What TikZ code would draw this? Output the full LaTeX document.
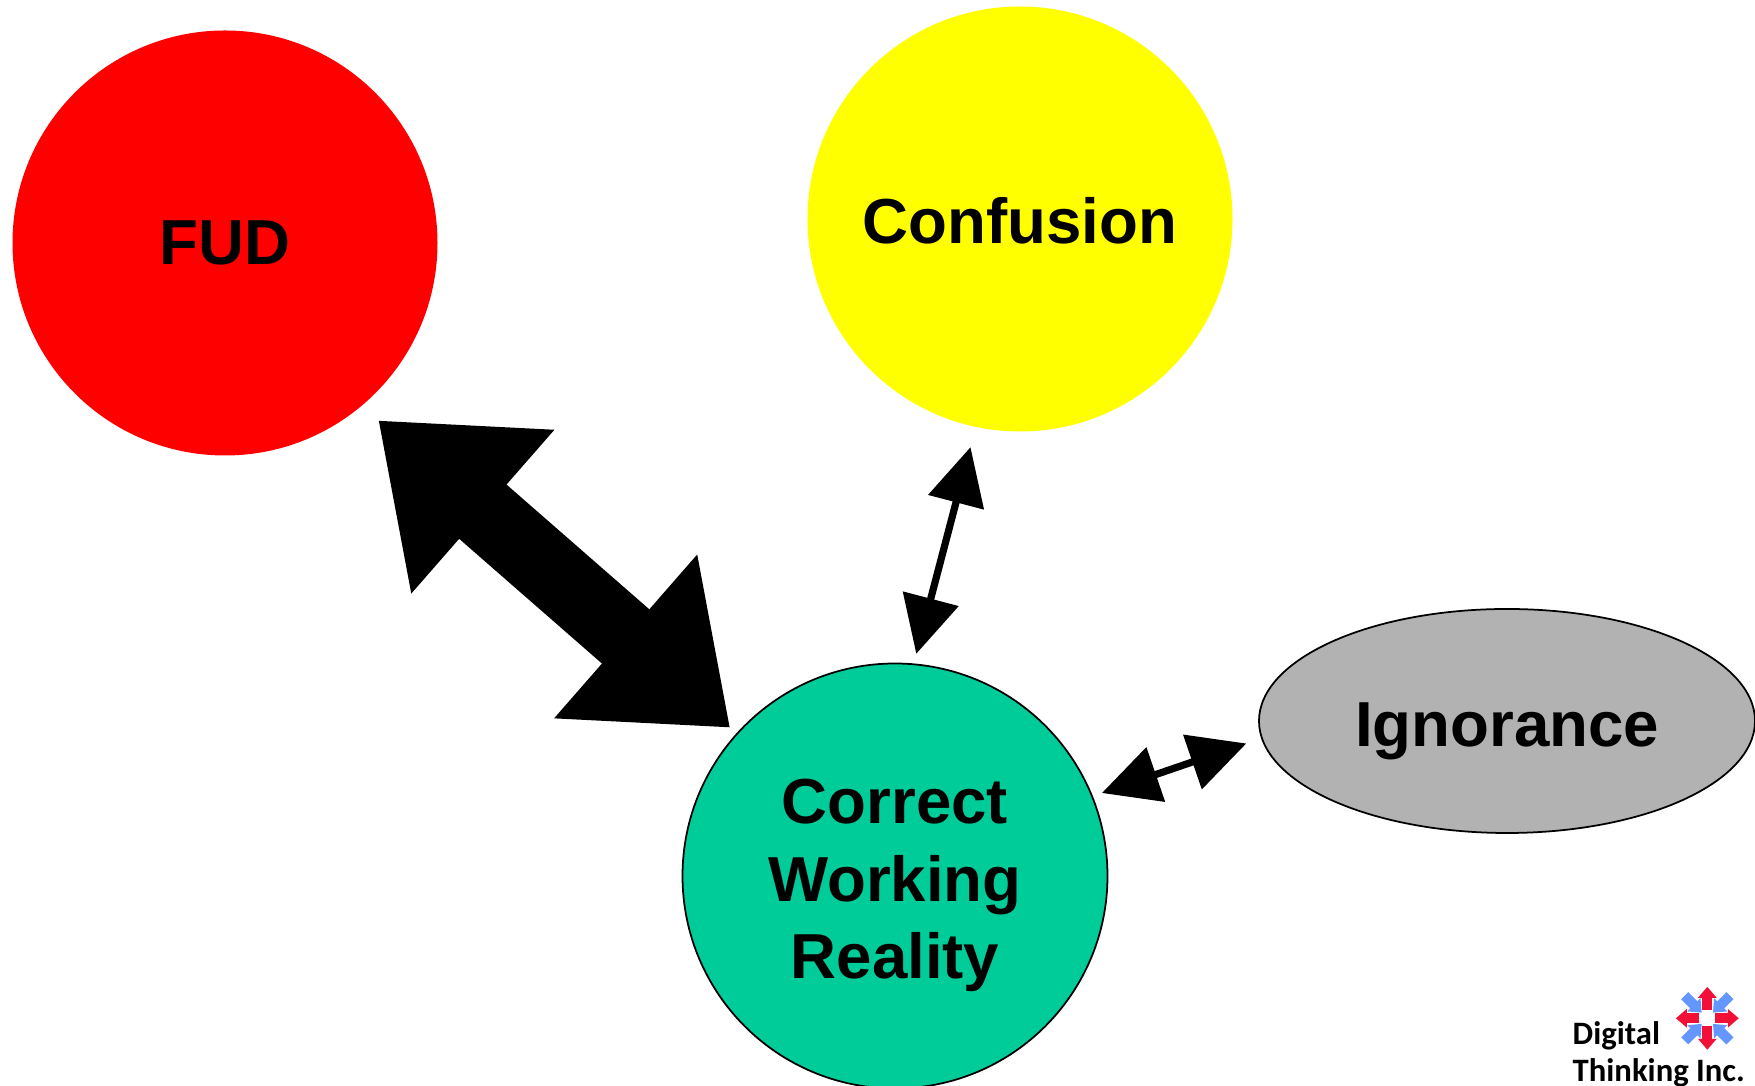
\documentclass[tikz,border=0pt]{standalone}
\usepackage{fontspec}
\setmainfont{Liberation Sans}
\newfontfamily\logofont{Carlito}[BoldFont={Carlito Bold}]
\usepackage{xcolor}
\usetikzlibrary{arrows.meta, shapes.geometric}

\definecolor{fudred}{RGB}{255,0,0}
\definecolor{confyellow}{RGB}{255,255,0}
\definecolor{realgreen}{RGB}{0,204,153}
\definecolor{ignogray}{RGB}{178,178,178}
\definecolor{logored}{RGB}{240,16,56}
\definecolor{logoblue}{RGB}{100,150,255}

\tikzset{
  blob/.style={line width=0.5pt, circle, inner sep=0pt, outer sep=0pt, minimum size=4.25cm, align=center,
    font=\fontsize{18.1}{22}\selectfont\bfseries},
  bigarrow/.style={line width=0.72cm, {Triangle[length=1.39cm, width=2.08cm]}-{Triangle[length=1.39cm, width=2.08cm]}},
  thinarrow/.style={line width=0.072cm, {Triangle[length=0.57cm, width=0.56cm]}-{Triangle[length=0.57cm, width=0.56cm]}},
  logotext/.style={anchor=base west, inner sep=0pt, font=\logofont\bfseries\fontsize{9.3}{11}\selectfont},
  logoout/.style={logored, line width=0.10cm, -{Triangle[length=0.11cm, width=0.18cm]}},
  logoin/.style={logoblue, line width=0.10cm, -{Triangle[length=0.11cm, width=0.18cm]}}
}

\begin{document}
\begin{tikzpicture}
    \useasboundingbox (0,0) rectangle (17.55,10.86);

    \node[blob, fill=fudred, text height=12.4pt, text depth=0pt]      (FUD)  at ( 2.25,  8.43)  {FUD};
    \node[blob, fill=confyellow, text height=14pt, text depth=0pt]  (CONF) at (10.20,  8.67)  {Confusion};
    \node[blob, draw, fill=realgreen]   (CWR)  at ( 8.95,  2.10)  {\rule{0pt}{18pt}Correct \\ Working \\ Reality};
    \node[blob, draw, ellipse, fill=ignogray, minimum width=4.96cm, minimum height=2.24cm, text height=14.6pt, text depth=0pt] (IGN) at (15.07, 3.65) {Ignorance};

    \draw[bigarrow, shorten <=0.22cm, shorten >=0.09cm] (FUD.-50.9) -- (CWR.138.0);
    \draw[thinarrow, shorten <=0.21cm, shorten >=0.108cm] (CONF.-102.9) -- (CWR.85.85);
    \draw[thinarrow, shorten <=0.104cm, shorten >=0.165cm] (CWR.22.4) -- (IGN.184.2);

    % logo
    \node[logotext] (DIG) at (15.72, 0.41) {Digital};
    \node[logotext] (THI) at (15.72, 0.04) {Thinking Inc.};
    \coordinate (LOGO) at (17.073, 0.677);

    \draw[logoout] (LOGO) ++(  0:0.08) -- ++(  0:0.235);
    \draw[logoout] (LOGO) ++( 90:0.08) -- ++( 90:0.235);
    \draw[logoout] (LOGO) ++(180:0.08) -- ++(180:0.235);
    \draw[logoout] (LOGO) ++(270:0.08) -- ++(270:0.235);

    \draw[logoin] (LOGO) ++( 45:0.32) -- ++(225:0.24);
    \draw[logoin] (LOGO) ++(135:0.32) -- ++(315:0.24);
    \draw[logoin] (LOGO) ++(225:0.32) -- ++( 45:0.24);
    \draw[logoin] (LOGO) ++(315:0.32) -- ++(135:0.24);
  \end{tikzpicture}
\end{document}
